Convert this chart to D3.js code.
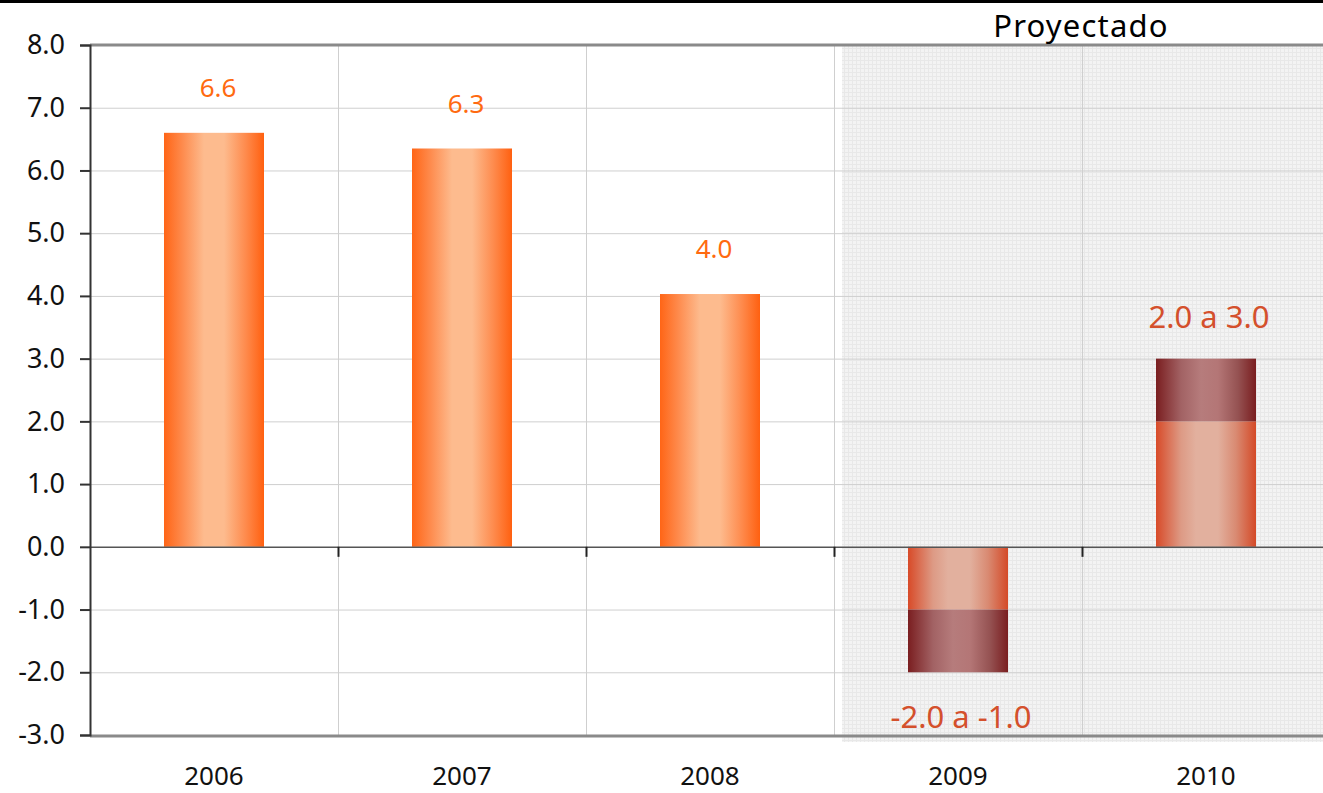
<!DOCTYPE html>
<html>
<head>
<meta charset="utf-8">
<script src="https://cdn.jsdelivr.net/npm/d3@7"></script>
<style>
	body { margin: 0; background: #fff; }
	svg text { font-family: "Noto Sans", "Open Sans", sans-serif; }
</style>
</head>
<body>
<script>
// data
var years = ['2006', '2007', '2008', '2009', '2010'];
var actualValues = [6.6, 6.35, 4.03, null, null];
var actualLabels = ['6.6', '6.3', '4.0', '', ''];
// projected ranges: [low, high]
var rangeLow = [null, null, null, -2.0, 2.0];
var rangeHigh = [null, null, null, -1.0, 3.0];
var rangeLabels = ['', '', '', '-2.0 a -1.0', '2.0 a 3.0'];
var yTicks = [8, 7, 6, 5, 4, 3, 2, 1, 0, -1, -2, -3];
var projectedFrom = '2009';

var width = 1323, height = 793;
var margin = {left: 90, top: 45, right: -7, bottom: 58};

var svg = d3.select('body').append('svg')
	.attr('width', width)
	.attr('height', height);

var defs = svg.append('defs');

function hGrad(id, stops){
	var g = defs.append('linearGradient').attr('id', id)
		.attr('x1', '0%').attr('x2', '100%').attr('y1', '0%').attr('y2', '0%');
	stops.forEach(function(s){
		g.append('stop').attr('offset', s[0]).attr('stop-color', s[1]);
	});
}
hGrad('gOrange', [['0%', '#ff6516'], ['18%', '#fe8a4c'], ['40%', '#fdbb8e'], ['60%', '#fdbb8e'], ['82%', '#fe8a4c'], ['100%', '#ff6010']]);
hGrad('gLight', [['0%', '#d84a28'], ['25%', '#dd9a85'], ['40%', '#e2b09e'], ['62%', '#e2b09e'], ['80%', '#d98a72'], ['100%', '#d44a28']]);
hGrad('gDark', [['0%', '#7a1e20'], ['25%', '#a26264'], ['45%', '#b67c7c'], ['62%', '#b47676'], ['82%', '#955252'], ['100%', '#7a1e20']]);

// light hatched background pattern for projected zone
var pat = defs.append('pattern').attr('id', 'pGrid')
	.attr('width', 4).attr('height', 4).attr('patternUnits', 'userSpaceOnUse');
pat.append('rect').attr('width', 4).attr('height', 4).attr('fill', '#f3f3f3');
pat.append('path').attr('d', 'M0 0.5H4M0.5 0V4').attr('stroke', '#e8e8e8').attr('stroke-width', 1);

var x = d3.scaleBand()
	.domain(years)
	.range([margin.left, width - margin.right])
	.paddingInner(0).paddingOuter(0);

var y = d3.scaleLinear()
	.domain([-3, 8])
	.range([height - margin.bottom, margin.top]);

var barW = 100;

// top black strip
svg.append('rect').attr('x', 0).attr('y', 0).attr('width', width).attr('height', 3).attr('fill', '#000');

// projected zone
svg.append('rect')
	.attr('x', x(projectedFrom) + 8)
	.attr('y', y(8))
	.attr('width', width - x(projectedFrom))
	.attr('height', y(-3) - y(8) + 7)
	.attr('fill', 'url(#pGrid)');

// horizontal grid
svg.append('g').selectAll('line')
	.data(yTicks.filter(function(d){ return d !== 8 && d !== -3 && d !== 0; }))
	.enter().append('line')
	.attr('x1', margin.left).attr('x2', width)
	.attr('y1', function(d){ return y(d) + 0.5; })
	.attr('y2', function(d){ return y(d) + 0.5; })
	.attr('stroke', '#cfcfcf').attr('stroke-width', 1);

// vertical grid at category boundaries
svg.append('g').selectAll('line')
	.data(years.slice(1))
	.enter().append('line')
	.attr('x1', function(d){ return x(d) + 0.5; })
	.attr('x2', function(d){ return x(d) + 0.5; })
	.attr('y1', y(8)).attr('y2', y(-3))
	.attr('stroke', '#cfcfcf').attr('stroke-width', 1);

// actual bars
svg.append('g').selectAll('rect')
	.data(years.map(function(d, i){ return {year: d, v: actualValues[i], label: actualLabels[i]}; })
		.filter(function(d){ return d.v !== null; }))
	.enter().append('rect')
	.attr('x', function(d){ return x(d.year) + x.bandwidth() / 2 - barW / 2; })
	.attr('width', barW)
	.attr('y', function(d){ return y(d.v); })
	.attr('height', function(d){ return y(0) - y(d.v); })
	.attr('fill', 'url(#gOrange)');

// projected range bars
var proj = years.map(function(d, i){
	return {year: d, lo: rangeLow[i], hi: rangeHigh[i], label: rangeLabels[i]};
}).filter(function(d){ return d.lo !== null; });

proj.forEach(function(d){
	var cx = x(d.year) + x.bandwidth() / 2 - barW / 2;
	// part between zero and the nearer end (lighter)
	var near = d.hi > 0 ? d.lo : d.hi;
	var far = d.hi > 0 ? d.hi : d.lo;
	svg.append('rect')
		.attr('x', cx).attr('width', barW)
		.attr('y', y(Math.max(0, near))).attr('height', Math.abs(y(near) - y(0)))
		.attr('fill', 'url(#gLight)');
	svg.append('rect')
		.attr('x', cx).attr('width', barW)
		.attr('y', y(Math.max(near, far))).attr('height', Math.abs(y(far) - y(near)))
		.attr('fill', 'url(#gDark)');
});

// frame: top & bottom gray
svg.append('line').attr('x1', margin.left).attr('x2', width).attr('y1', y(8)).attr('y2', y(8))
	.attr('stroke', '#8a8a8a').attr('stroke-width', 3);
svg.append('line').attr('x1', margin.left).attr('x2', width).attr('y1', y(-3) + 1).attr('y2', y(-3) + 1)
	.attr('stroke', '#8a8a8a').attr('stroke-width', 3);

// zero line with category ticks
svg.append('line').attr('x1', margin.left).attr('x2', width).attr('y1', y(0) + 0.5).attr('y2', y(0) + 0.5)
	.attr('stroke', '#555').attr('stroke-width', 1.5);
svg.append('g').selectAll('line')
	.data(years.slice(1))
	.enter().append('line')
	.attr('x1', function(d){ return x(d) + 0.5; })
	.attr('x2', function(d){ return x(d) + 0.5; })
	.attr('y1', y(0)).attr('y2', y(0) + 10)
	.attr('stroke', '#222').attr('stroke-width', 2);

// y axis
var yAxis = d3.axisLeft(y)
	.tickValues(yTicks)
	.tickFormat(d3.format('.1f'))
	.tickSize(10)
	.tickPadding(15);

var gy = svg.append('g')
	.attr('transform', 'translate(' + margin.left + ',0)')
	.call(yAxis);
gy.select('.domain').attr('stroke', '#333').attr('stroke-width', 2);
gy.selectAll('.tick line').attr('stroke', '#333').attr('stroke-width', 2);
gy.selectAll('.tick text')
	.attr('font-size', 27)
	.attr('fill', '#111')
	.text(function(d){ return d3.format('.1f')(d).replace('−', '-'); });

// x labels
svg.append('g').selectAll('text')
	.data(years)
	.enter().append('text')
	.attr('x', function(d){ return x(d) + x.bandwidth() / 2; })
	.attr('y', 785)
	.attr('text-anchor', 'middle')
	.attr('font-size', 26)
	.attr('fill', '#111')
	.text(function(d){ return d; });

// value labels
svg.append('g').selectAll('text')
	.data(years.map(function(d, i){ return {year: d, v: actualValues[i], label: actualLabels[i]}; })
		.filter(function(d){ return d.v !== null; }))
	.enter().append('text')
	.attr('x', function(d){ return x(d.year) + x.bandwidth() / 2 + 4; })
	.attr('y', function(d){ return y(d.v) - 36; })
	.attr('text-anchor', 'middle')
	.attr('font-size', 26)
	.attr('fill', '#ff6a10')
	.text(function(d){ return d.label; });

svg.append('g').selectAll('text')
	.data(proj)
	.enter().append('text')
	.attr('x', function(d){ return x(d.year) + x.bandwidth() / 2 + 3; })
	.attr('y', function(d){ return d.hi > 0 ? y(d.hi) - 31 : y(d.lo) + 56; })
	.attr('text-anchor', 'middle')
	.attr('font-size', 31)
	.attr('fill', '#d4502c')
	.text(function(d){ return d.label; });

// "Proyectado" header
svg.append('text')
	.attr('x', 1081)
	.attr('y', 37)
	.attr('text-anchor', 'middle')
	.attr('font-size', 31)
	.attr('letter-spacing', 1.2)
	.attr('fill', '#000')
	.text('Proyectado');
</script>
</body>
</html>
